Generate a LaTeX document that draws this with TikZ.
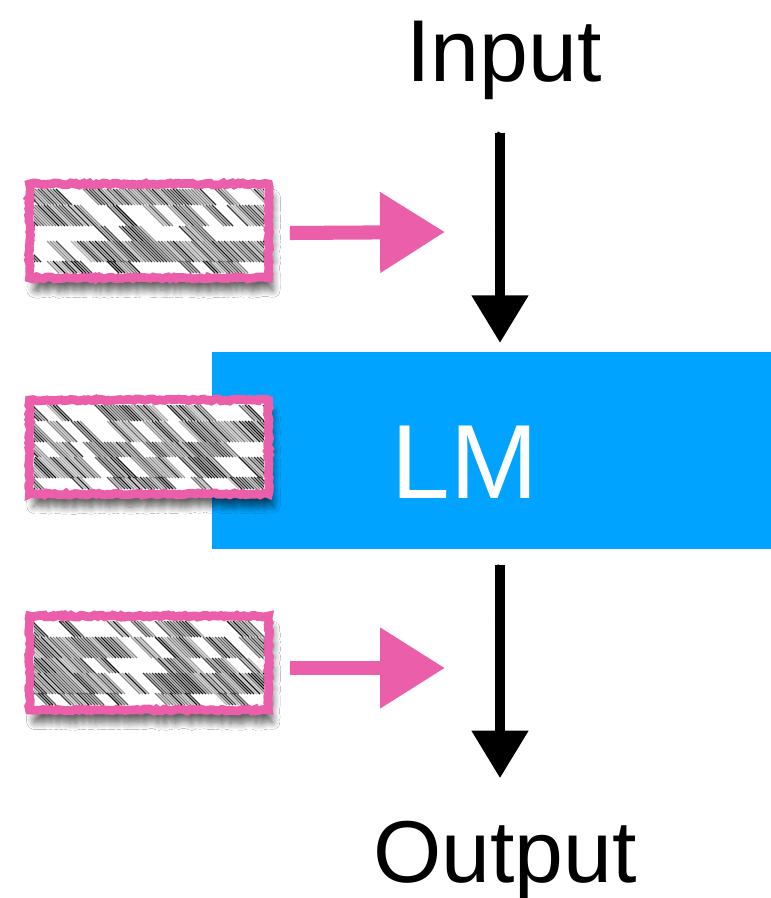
\documentclass[tikz,border=0pt]{standalone}
\usepackage{fontspec}
\setmainfont{Liberation Sans}
\usetikzlibrary{arrows.meta,calc,decorations.pathmorphing,shadows.blur}

\definecolor{lmblue}{RGB}{0,163,255}
\definecolor{chalkpink}{RGB}{234,94,170}

% one band of slanted ink strokes: top, bottom, share of inked letter blocks
\newcommand\inkrow[3]{%
  \foreach \k in {0,...,24}{%
    \pgfmathsetmacro\inkr{rnd}%
    \ifdim\inkr pt<#3pt
      \foreach \j in {0,...,3}{%
        \pgfmathsetmacro\inkx{-150+\k*12+\j*3}%
        \pgfmathsetmacro\inkg{int(30+70*rnd)}%
        \draw[line width=0.7pt, black!\inkg]
          (\inkx,#1) -- ++({1.0*((#2)-(#1))},{(#2)-(#1)});
      }%
    \fi
  }}

% hatched word-cloud filling inside a document card
\newcommand\cardtexture[2]{%
  \begin{scope}[shift={(#1.center)}]
    \clip (-115,-42) rectangle (115,42);
    \pgfmathsetseed{#2}
    \inkrow{-42}{-26}{0.6}
    \inkrow{-26}{-5}{0.8}
    \inkrow{-5}{10}{0.55}
    \inkrow{10}{31}{0.8}
    \inkrow{30}{42}{0.55}
  \end{scope}}

\tikzset{
  label text/.style={font=\fontsize{50pt}{60pt}\selectfont, inner sep=0pt, anchor=base},
  lm box/.style={fill=lmblue, minimum width=11.52cm, minimum height=3.94cm, inner sep=0pt},
  lm text/.style={text=white, font=\fontsize{60pt}{70pt}\selectfont, inner sep=0pt, anchor=base},
  docbox/.style={draw=chalkpink, line width=5pt, fill=white,
    minimum width=4.78cm, minimum height=1.88cm, inner sep=0pt,
    decorate, decoration={random steps, segment length=1.6pt, amplitude=0.6pt},
    blur shadow={shadow xshift=2.5pt, shadow yshift=-7pt,
      shadow blur radius=4pt, shadow blur steps=8, shadow opacity=60}},
  rough/.style={postaction={draw=#1, -, line width=0.7*\pgflinewidth, decorate,
    decoration={random steps, segment length=2pt, amplitude=1.2pt,
      post=moveto, post length=30pt}}},
  blkarrow/.style={draw=black, line width=5.5pt,
    -{Triangle[width=31pt,length=27pt]}, rough=black},
  pinkarrow/.style={draw=chalkpink, line width=8pt,
    -{Triangle[width=44pt,length=37pt]}, rough=chalkpink},
}

\begin{document}
\begin{tikzpicture}[x=0.02cm, y=-0.02cm]
  \fill[white] (0,0) rectangle (770,898);
  \useasboundingbox (0,0) rectangle (770,898);

  % language model block
  \node[lm box] (lm) at (500,450.5) {};
  \node[lm text] (lmlabel) at (465,498) {LM};

  % retrieved documents
  \node[docbox] (d1) at (149,231) {};
  \cardtexture{d1}{11}
  \node[docbox] (d2) at (149,447) {};
  \cardtexture{d2}{23}
  \node[docbox] (d3) at (149,663) {};
  \cardtexture{d3}{37}

  % input and output
  \node[label text] (in) at (504,82) {Input};
  \node[label text] (out) at (505,882) {Output};

  % main flow
  \draw[blkarrow, shorten >=5pt]
    ($(in.south -| lm.north)+(0,32)$) -- (lm.north);
  \draw[blkarrow, shorten >=24pt]
    ($(lm.south)+(0,16)$) -- (out.north -| lm.south);

  % documents fed in
  \coordinate (p1) at (445,232);
  \coordinate (p3) at (445,668);
  \draw[pinkarrow] ($(d1.east)+(17,2)$) -- (p1);
  \draw[pinkarrow] ($(d3.east)+(17,5)$) -- (p3);
\end{tikzpicture}
\end{document}
